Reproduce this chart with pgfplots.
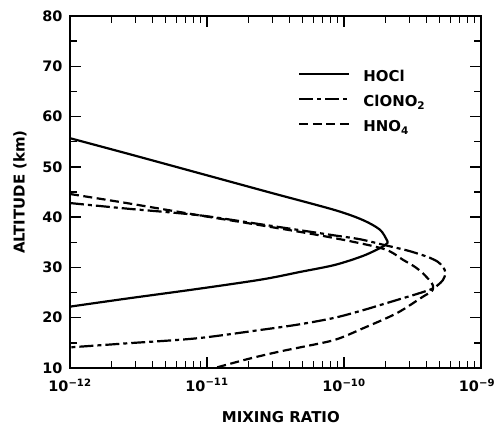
\documentclass[border=0pt]{standalone}
\usepackage{fontspec}
\setmainfont{DejaVu Sans}
\usepackage{pgfplots}
\pgfplotsset{compat=1.18}
\begin{document}
\begin{tikzpicture}
\begin{axis}[
  scale only axis, width=411bp, height=352bp,
  xmode=log, xmin=1e-12, xmax=1e-9, ymin=10, ymax=80,
  ytick={10,20,...,80}, minor ytick={15,25,...,75},
  xtick={1e-12,1e-11,1e-10,1e-9},
  xticklabels={10\textsuperscript{−12},10\textsuperscript{−11},10\textsuperscript{−10},\hspace*{-8bp}10\textsuperscript{−9}},
  minor xtick={2e-12,3e-12,4e-12,5e-12,6e-12,7e-12,8e-12,9e-12,2e-11,3e-11,4e-11,5e-11,6e-11,7e-11,8e-11,9e-11,2e-10,3e-10,4e-10,5e-10,6e-10,7e-10,8e-10,9e-10},
  tick align=inside,
  major tick length=11bp, minor tick length=7bp,
  every tick/.style={line width=1.4bp, black},
  axis line style={line width=2bp},
  tick label style={font=\fontsize{14.5}{16}\selectfont\bfseries},
  xticklabel style={yshift=-7bp},
  yticklabel style={xshift=-4bp},
  /pgf/number format/assume math mode=true,
  xlabel={MIXING RATIO}, ylabel={ALTITUDE (km)},
  label style={font=\fontsize{15}{18}\selectfont\bfseries},
  xlabel style={at={(axis description cs:0.513,-0.14)}, anchor=center},
  ylabel style={at={(axis description cs:-0.122,0.5)}, anchor=center},
  legend style={at={(axis description cs:0.555,0.845)}, anchor=north west, draw=none, fill=none,
    font=\fontsize{15}{18}\selectfont\bfseries, row sep=10bp, column sep=13bp, inner sep=0pt,
    nodes={inner sep=0pt, text height=11bp, text depth=4bp}},
  legend cell align=left,
  legend image code/.code={\draw[#1] (0bp,4bp) -- (50bp,4bp);},
]
\addplot[black, line width=2.2bp, smooth] coordinates {
(1.00e-12,55.7) (2.74e-12,52.5) (8.89e-12,48.7) (2.88e-11,44.9) (8.59e-11,41.4)
(1.38e-10,39.4) (1.83e-10,37.5) (2.05e-10,35.5) (2.08e-10,34.9) (1.98e-10,34.4)
(1.88e-10,34.0) (1.38e-10,32.3) (8.59e-11,30.5) (4.78e-11,29.1) (2.51e-11,27.6)
(8.41e-12,25.7) (2.59e-12,23.8) (1.00e-12,22.2)};
\addlegendentry{HOCl}
\addplot[black, line width=2.2bp, smooth, dash pattern=on 14bp off 4bp on 4bp off 4bp] coordinates {
(1.00e-12,42.8) (2.59e-12,41.7) (8.59e-12,40.4) (2.44e-11,38.6) (7.91e-11,36.5)
(1.31e-10,35.6) (1.94e-10,34.5) (2.87e-10,33.4) (3.59e-10,32.6) (4.25e-10,31.9)
(4.85e-10,31.1) (5.28e-10,30.1) (5.51e-10,28.9) (5.28e-10,27.5) (4.85e-10,26.5)
(4.37e-10,25.7) (3.30e-10,24.6) (2.56e-10,23.7) (1.83e-10,22.5) (1.38e-10,21.5)
(8.59e-11,20.0) (4.78e-11,18.7) (2.51e-11,17.6) (8.41e-12,15.9) (2.59e-12,14.9) (1.00e-12,14.1)};
\addlegendentry{ClONO\textsubscript{2}}
\addplot[black, line width=2.2bp, smooth, dash pattern=on 9bp off 4.5bp] coordinates {
(1.00e-12,44.6) (2.59e-12,42.8) (8.59e-12,40.4) (2.44e-11,38.4) (7.91e-11,36.0)
(1.94e-10,33.7) (2.70e-10,31.5) (3.30e-10,30.1) (3.78e-10,28.8) (4.37e-10,26.9)
(4.47e-10,26.0) (4.36e-10,25.2) (3.78e-10,24.2) (2.43e-10,20.9) (1.38e-10,17.9)
(8.59e-11,15.6) (4.78e-11,14.1) (3.30e-11,13.2) (2.00e-11,11.8) (1.14e-11,10.0)};
\addlegendentry{HNO\textsubscript{4}}
\end{axis}
\pgfresetboundingbox
\path ([shift={(-70bp,-57bp)}]current axis.south west) rectangle ([shift={(15bp,16bp)}]current axis.north east);
\end{tikzpicture}
\end{document}
